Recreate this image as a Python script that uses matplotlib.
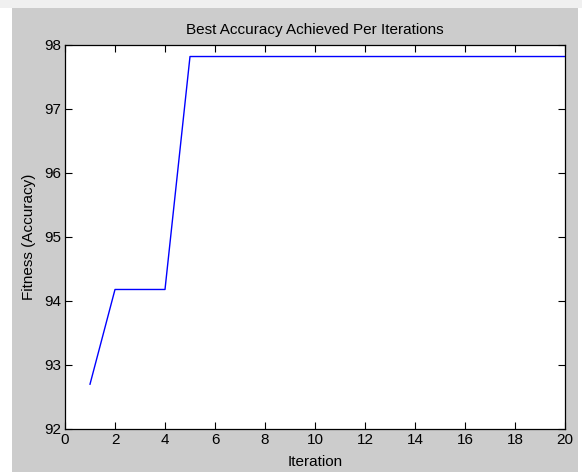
import matplotlib
matplotlib.use("Agg")
import matplotlib.pyplot as plt
from matplotlib.patches import Rectangle

iterations = list(range(1, 21))
accuracy = [92.70, 94.18, 94.18, 94.18, 97.82, 97.82, 97.82, 97.82, 97.82, 97.82,
            97.82, 97.82, 97.82, 97.82, 97.82, 97.82, 97.82, 97.82, 97.82, 97.82]
xticks = list(range(0, 21, 2))
yticks = [92, 93, 94, 95, 96, 97, 98]

plt.rcParams['font.family'] = ['Liberation Sans', 'DejaVu Sans']

W, H = 582, 472
fig = plt.figure(figsize=(W / 100, H / 100), dpi=100, facecolor='white')
# gray MATLAB figure area
fig.add_artist(Rectangle((12 / W, 0), (578 - 12) / W, (H - 8) / H,
                         transform=fig.transFigure, facecolor='#cccccc',
                         edgecolor='none', zorder=-10))
fig.add_artist(Rectangle((0, (H - 8) / H), 1, 8 / H,
                         transform=fig.transFigure, facecolor='#f0f0f0',
                         edgecolor='none', zorder=-10))

ax = fig.add_axes([65 / W, (H - 429) / H, 500 / W, 384 / H])
ax.set_zorder(5)
ax.set_facecolor('white')
ax.plot(iterations, accuracy, color='#0000ff', linewidth=1.0)
ax.set_xlim(0, 20)
ax.set_ylim(92, 98)
ax.set_xticks(xticks)
ax.set_yticks(yticks)
ax.tick_params(direction='in', length=5, width=0.8, top=True, right=True,
               labelsize=11, colors='black', pad=3)
for s in ax.spines.values():
    s.set_linewidth(0.9)
    s.set_color('black')
ax.set_title('Best Accuracy Achieved Per Iterations', fontsize=11, pad=8)
ax.set_xlabel('Iteration', fontsize=11, labelpad=6)
ax.set_ylabel('Fitness (Accuracy)', fontsize=11, labelpad=6)

fig.savefig('out.png', dpi=100, facecolor=fig.get_facecolor())
